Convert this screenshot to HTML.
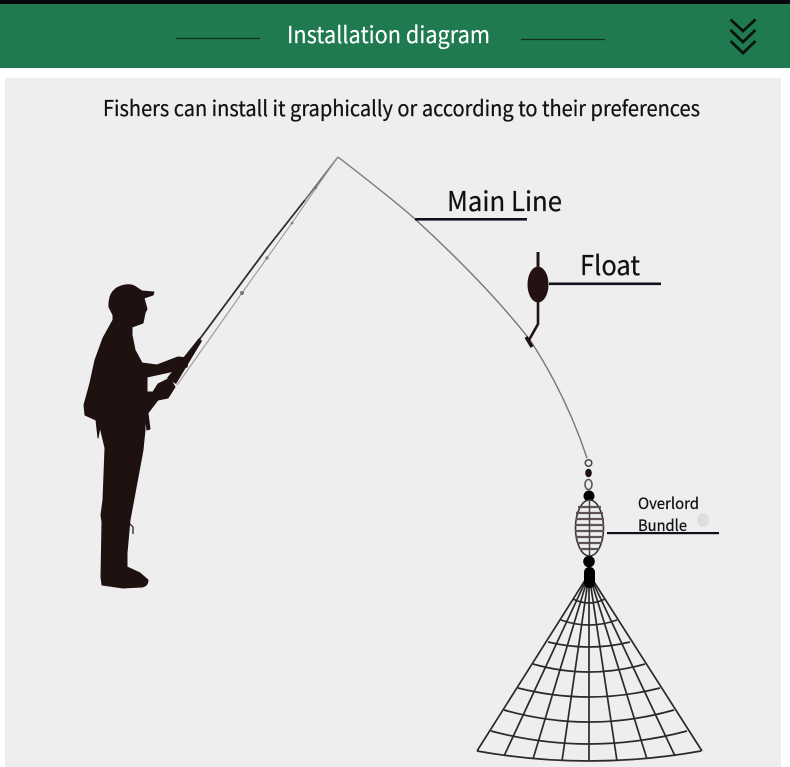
<!DOCTYPE html>
<html><head><meta charset="utf-8"><style>
html,body{margin:0;padding:0;background:#fff;width:790px;height:767px;overflow:hidden}
svg{display:block}
text{font-family:"Noto Sans CJK SC","Liberation Sans",sans-serif;fill:#111;stroke:#111;stroke-width:.25}
</style></head><body>
<svg width="790" height="767" viewBox="0 0 790 767" xmlns="http://www.w3.org/2000/svg">
<rect width="790" height="767" fill="#fff"/>
<rect x="0" y="4" width="790" height="64" fill="#1f7a50"/>
<rect x="0" y="0" width="790" height="4" fill="#05070d"/>
<rect x="5" y="78" width="776" height="689" fill="#eeeeee"/>

<!-- header -->
<path d="M176 38.500H260M521 39.500H605" stroke="#10301c" stroke-width="1.200"/>
<text x="287" y="43" font-size="23" textLength="203" lengthAdjust="spacingAndGlyphs" style="fill:#fff;stroke:#fff;stroke-width:.15">Installation diagram</text>
<path d="M730.500 19.500L743 31L755.500 19.500M730.500 30L743 42L755.500 30M730.500 41L743 53L755.500 41" fill="none" stroke="#08140c" stroke-width="2.800"/>
<text x="103" y="116" font-size="21.500" textLength="597" lengthAdjust="spacingAndGlyphs">Fishers can install it graphically or according to their preferences</text>

<!-- rod -->
<path d="M338 157L305 200" fill="none" stroke="#666" stroke-width="1.500"/>
<path d="M305 200L268 247L199 340" fill="none" stroke="#2c2c2c" stroke-width="1.800"/>
<path d="M338 157L316 188L292 223L267 258L242 293L177 385" fill="none" stroke="#999" stroke-width="1.100"/>
<path d="M199 338L202 341L176 384L167 378Z" fill="#1e1110"/>
<circle cx="316" cy="188" r="1.100" fill="#777"/><circle cx="292" cy="223" r="1.300" fill="#777"/><circle cx="267" cy="258" r="1.600" fill="#777"/><circle cx="242" cy="293" r="2" fill="#777"/>

<!-- main line -->
<path d="M338 157Q400 205 416 220Q487 285 530 340Q566 395 587 458" fill="none" stroke="#777" stroke-width="1.400"/>

<!-- fisher -->
<path fill="#1e1110" stroke="#1e1110" stroke-width="1" stroke-linejoin="round" d="M125 285Q132 284 136 287L142 291L154 292L153 295L144 298L147 309L145 313L143 323L132 327L132 335L135 350L142 363L157 365L178 357L189 358L187 367L170 372L147 377L147 392L153 392L158 384L170 378L175 387L168 398L158 400L148 413L150 429L147 430L145 417L145 430L143 450L138 477L130 520L127 553L127 567L140 573L148 580Q148 586 142 587L123 588L102 585L101 577L102 522L101 515L103 500L105 448L100 427L98 438L96 420L85 415L84 405L90 383L95 360L103 338L113 320L113 315L109 307Q108 288 125 285Z"/>
<path d="M129 523L133 527L133 534" fill="none" stroke="#1e1110" stroke-width="1.200"/>

<!-- labels -->
<text x="447" y="211" font-size="27" textLength="115" lengthAdjust="spacingAndGlyphs">Main Line</text>
<rect x="415" y="218" width="112" height="2.600" fill="#10101a"/>
<text x="580" y="275" font-size="27" textLength="60" lengthAdjust="spacingAndGlyphs">Float</text>
<rect x="549" y="282.500" width="112" height="2.600" fill="#10101a"/>

<!-- float -->
<rect x="536.500" y="252" width="3" height="20" fill="#231414"/>
<ellipse cx="538" cy="284.500" rx="10.500" ry="18" fill="#221212"/>
<path d="M538 300V324L529 340" fill="none" stroke="#231414" stroke-width="2.600"/>
<path d="M526 337L532 347" stroke="#1e1110" stroke-width="3.400"/>

<!-- swivel -->
<circle cx="588.500" cy="463" r="3.300" fill="none" stroke="#444" stroke-width="1.500"/>
<ellipse cx="588.500" cy="473" rx="3.300" ry="4.200" fill="#1e1110"/>
<ellipse cx="588.500" cy="484.500" rx="3.500" ry="5" fill="none" stroke="#555" stroke-width="1.600"/>
<circle cx="589" cy="496" r="5.500" fill="#000"/>

<!-- net ribs -->
<g fill="none" stroke="#2a2a2a" stroke-width="1.700">
<path d="M589 574L477 751M589 574L504 756M589 574L533 759M589 574L562 761M589 574V761.500M589 574L617 761M589 574L647 759M589 574L675 756M589 574L702 751"/>
<path d="M477 751Q589 771 701 751M491 731Q589 757 687 731M504 710Q589 734 674 710M518 688Q589 706 660 688M533 664Q589 680 645 664M548 642Q589 652 630 642M561 620Q589 630 617 620M573 599Q589 607 605 599"/>
</g>

<!-- overlord bundle -->
<ellipse cx="589.500" cy="528" rx="14" ry="28" fill="#eee" stroke="#333" stroke-width="1.600"/>
<path d="M578 507H601M576 513H603M576 519H604M575 525H604M575 531H604M576 537H603M577 543H602M580 549H599" stroke="#5e5454" stroke-width="2.200"/>
<path d="M589.500 500V556" stroke="#444" stroke-width="1.500"/>
<circle cx="589" cy="561.500" r="5.800" fill="#000"/>
<rect x="584" y="567" width="11" height="21" rx="5" fill="#000"/>
<text x="638" y="509" font-size="15.500" textLength="61" lengthAdjust="spacingAndGlyphs">Overlord</text>
<text x="638" y="531" font-size="15.500" textLength="49" lengthAdjust="spacingAndGlyphs">Bundle</text>
<ellipse cx="703" cy="520" rx="6" ry="7" fill="#dedede"/>
<rect x="607" y="532" width="112" height="2.200" fill="#10101a"/>
</svg>
</body></html>
